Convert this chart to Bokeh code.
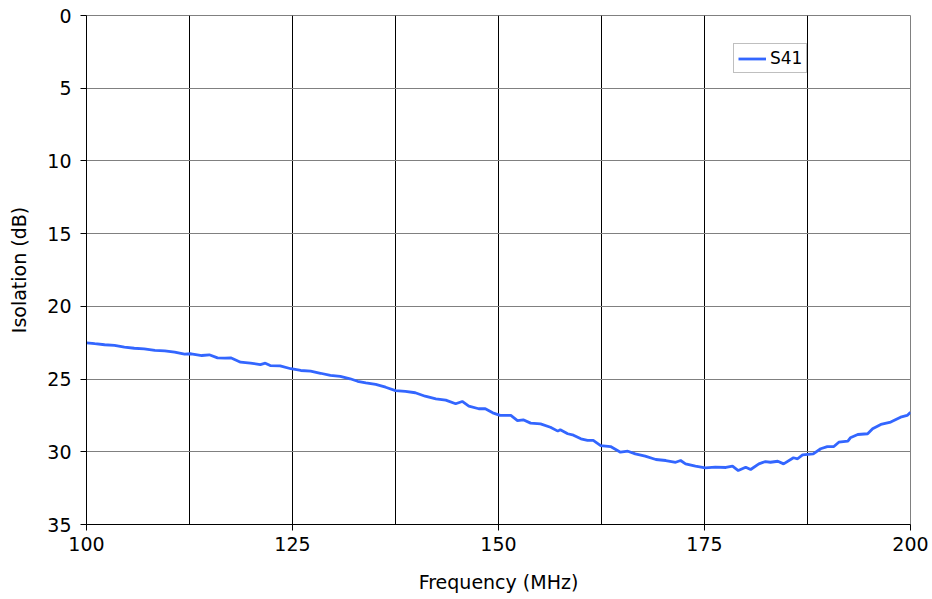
from bokeh.plotting import figure
from bokeh.models import Range1d, FixedTicker, Legend, LegendItem
from bokeh.embed import file_html
from bokeh.resources import INLINE

freq_mhz = [100.0, 101.0, 102.2, 103.4, 104.6, 105.8, 107.0, 108.3, 109.5, 110.7,
            111.9, 112.7, 114.0, 114.9, 115.9, 116.8, 117.5, 118.7, 119.9, 121.1,
            121.7, 122.3, 123.5, 124.8, 126.0, 127.2, 128.4, 129.6, 130.8, 132.0,
            132.9, 133.9, 135.1, 136.3, 137.5, 138.7, 139.9, 141.1, 142.4, 143.6,
            144.8, 145.6, 146.4, 147.6, 148.4, 149.3, 150.2, 151.5, 152.3, 153.0,
            153.9, 155.1, 156.3, 157.2, 157.5, 158.4, 159.1, 160.0, 160.8, 161.5,
            162.4, 163.6, 164.8, 165.7, 166.6, 167.8, 169.1, 170.3, 171.5, 172.1,
            172.7, 173.9, 175.1, 176.3, 177.6, 178.4, 179.1, 180.0, 180.6, 181.6,
            182.4, 183.0, 183.9, 184.6, 185.8, 186.3, 186.9, 188.2, 189.1, 189.9,
            190.7, 191.3, 192.4, 192.7, 193.6, 194.8, 195.4, 196.4, 197.6, 198.8,
            199.6, 200.0]
isolation_db = [22.51, 22.57, 22.64, 22.69, 22.81, 22.88, 22.92, 23.03, 23.06, 23.15,
                23.29, 23.26, 23.38, 23.33, 23.54, 23.56, 23.54, 23.84, 23.91, 24.00,
                23.91, 24.07, 24.09, 24.29, 24.41, 24.46, 24.60, 24.75, 24.82, 24.98,
                25.15, 25.26, 25.37, 25.56, 25.79, 25.85, 25.94, 26.18, 26.36, 26.45,
                26.70, 26.54, 26.86, 27.04, 27.04, 27.32, 27.50, 27.50, 27.85, 27.80,
                28.03, 28.08, 28.31, 28.58, 28.49, 28.76, 28.86, 29.11, 29.22, 29.22,
                29.57, 29.64, 30.03, 29.96, 30.14, 30.30, 30.53, 30.60, 30.72, 30.60,
                30.83, 30.99, 31.10, 31.06, 31.08, 30.99, 31.29, 31.06, 31.22, 30.83,
                30.67, 30.72, 30.65, 30.83, 30.41, 30.48, 30.21, 30.14, 29.79, 29.64,
                29.64, 29.34, 29.27, 29.04, 28.81, 28.76, 28.42, 28.12, 27.96, 27.62,
                27.50, 27.28]

x_ticks = [100, 125, 150, 175, 200]
x_grid = [100, 112.5, 125, 137.5, 150, 162.5, 175, 187.5, 200]
y_ticks = [0, 5, 10, 15, 20, 25, 30, 35]

FONT = "DejaVu Sans"
FS = "19px"

p = figure(width=932, height=599, output_backend="svg", toolbar_location=None,
           x_range=Range1d(100, 200), y_range=Range1d(35, 0),
           min_border_left=86, min_border_right=22, min_border_top=15, min_border_bottom=75)

p.background_fill_color = "white"
p.border_fill_color = "white"
p.outline_line_color = "#808080"
p.outline_line_width = 1

r = p.line(freq_mhz, isolation_db, line_color="#3366FF", line_width=2.8)

p.xaxis.ticker = FixedTicker(ticks=x_ticks)
p.yaxis.ticker = FixedTicker(ticks=y_ticks)
p.xgrid.ticker = FixedTicker(ticks=x_grid)
p.xgrid.grid_line_color = "black"
p.xgrid.grid_line_width = 1
p.ygrid.grid_line_color = "#808080"
p.ygrid.grid_line_width = 1

for ax in (p.xaxis, p.yaxis):
    ax.axis_line_color = "black"
    ax.major_tick_line_color = "black"
    ax.major_tick_out = 6
    ax.major_tick_in = 0
    ax.minor_tick_line_color = None
    ax.major_label_text_font = FONT
    ax.major_label_text_font_size = FS
    ax.major_label_text_color = "black"
    ax.axis_label_text_font = FONT
    ax.axis_label_text_font_size = FS
    ax.axis_label_text_font_style = "normal"
    ax.axis_label_text_color = "black"

p.xaxis.axis_label = "Frequency (MHz)"
p.yaxis.axis_label = "Isolation (dB)"
p.xaxis.major_label_standoff = 6
p.xaxis.axis_label_standoff = 17
p.yaxis.major_label_standoff = 9
p.yaxis.axis_label_standoff = 14

legend = Legend(items=[LegendItem(label="S41", renderers=[r])],
                location=(647, 451), orientation="vertical",
                padding=4, margin=0, glyph_width=28, glyph_height=15,
                label_standoff=4, spacing=0,
                border_line_color="#808080", border_line_width=1,
                background_fill_color="white", background_fill_alpha=1.0,
                label_text_font=FONT, label_text_font_size="17px", label_text_color="black")
p.add_layout(legend)

open("out.html", "w").write(file_html(p, INLINE))
